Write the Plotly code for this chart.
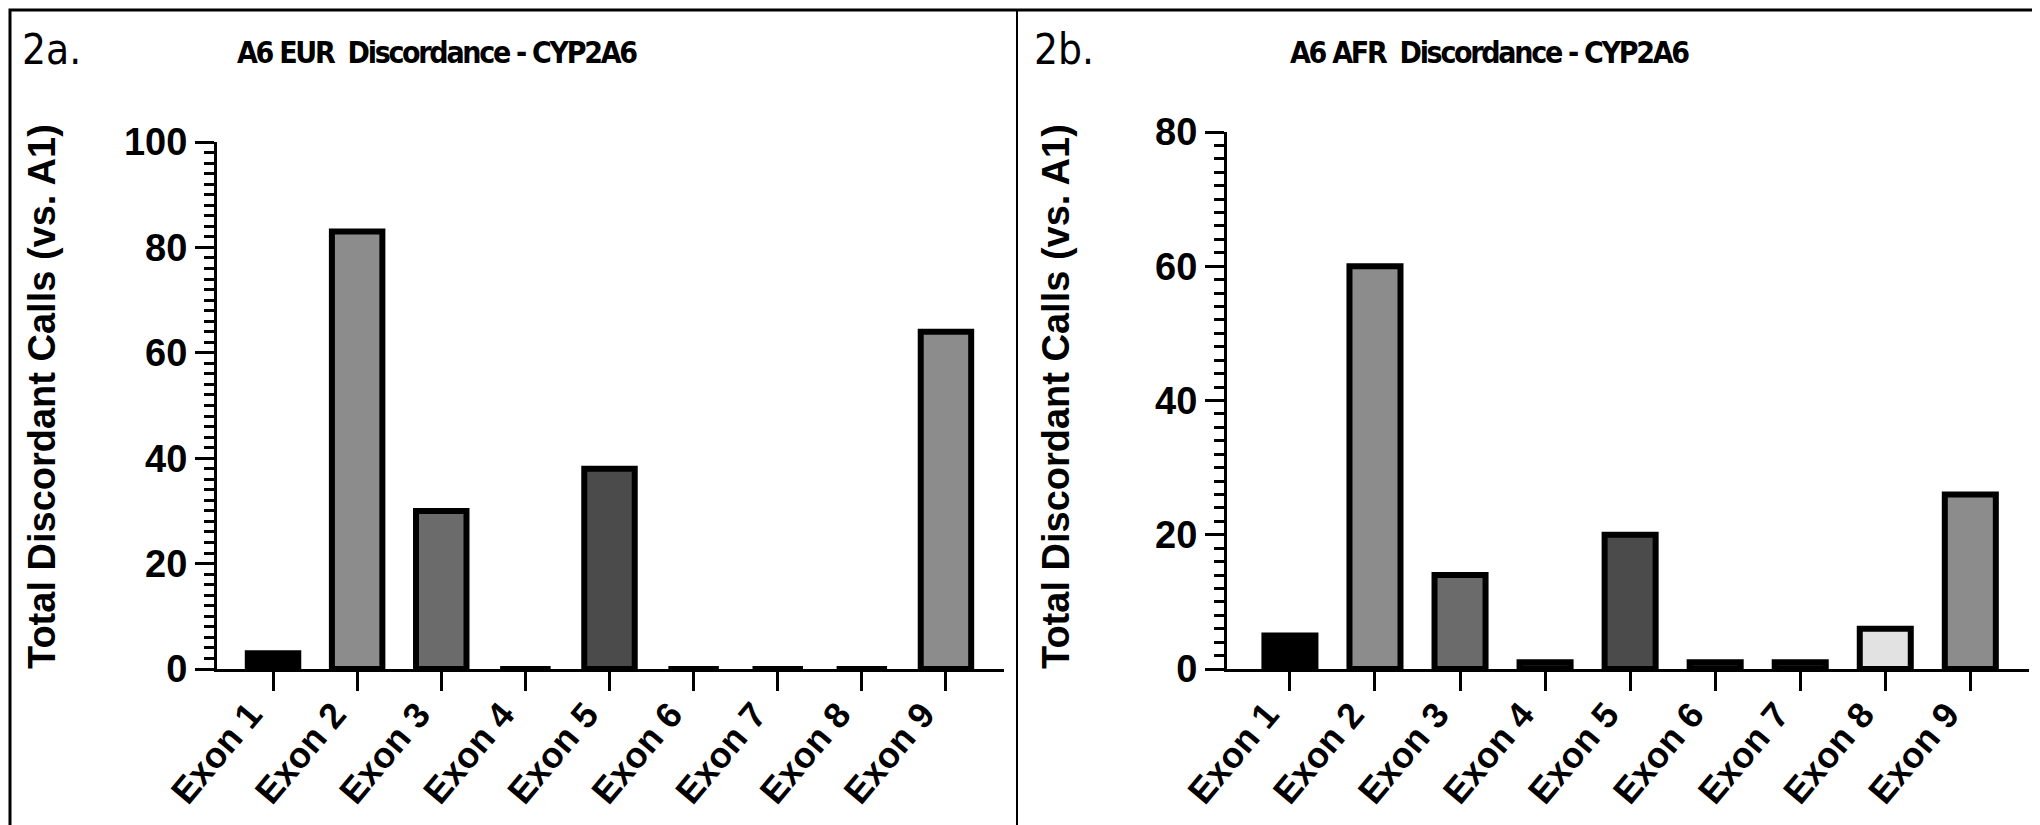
import plotly.graph_objects as go

# ---- data ----
categories = ["Exon 1", "Exon 2", "Exon 3", "Exon 4", "Exon 5", "Exon 6", "Exon 7", "Exon 8", "Exon 9"]
eur_values = [3, 83, 30, 0, 38, 0, 0, 0, 64]
afr_values = [5, 60, 14, 1, 20, 1, 1, 6, 26]
bar_colors = ["#000000", "#8c8c8c", "#6b6b6b", "#1c1c1c", "#4b4b4b", "#1c1c1c", "#1c1c1c", "#e2e2e2", "#8c8c8c"]
titles = ["A6 EUR  Discordance - CYP2A6", "A6 AFR  Discordance - CYP2A6"]
panel_labels = ["2a.", "2b."]
y_title = "Total Discordant Calls (vs. A1)"

W, H = 2040, 825

def px(x):
    return x / W

def py(y):
    return 1 - y / H

TICK_FONT = dict(family="Liberation Sans, Arial, sans-serif", size=38, color="black", weight="bold")
XTICK_FONT = dict(family="Liberation Sans, Arial, sans-serif", size=36, color="black", weight="bold")
NARROW = "Liberation Sans Narrow, DejaVu Sans Condensed, sans-serif"

fig = go.Figure()
fig.add_trace(go.Bar(x=categories, y=eur_values, width=0.6,
                     marker=dict(color=bar_colors, line=dict(color="black", width=6)),
                     xaxis="x", yaxis="y", showlegend=False))
fig.add_trace(go.Bar(x=categories, y=afr_values, width=0.6,
                     marker=dict(color=bar_colors, line=dict(color="black", width=6)),
                     xaxis="x2", yaxis="y2", showlegend=False))

def xax(domain, anchor, rng):
    return dict(domain=domain, anchor=anchor, type="category", range=rng,
                showline=True, linecolor="black", linewidth=3, mirror=False,
                ticks="outside", ticklen=19, tickwidth=3, tickcolor="black",
                tickangle=-50, tickfont=XTICK_FONT, showgrid=False, zeroline=False,
                ticklabelshift=-23, ticklabelstandoff=-12,
                automargin=False, fixedrange=True)

def yax(domain, anchor, rng):
    return dict(domain=domain, anchor=anchor, range=rng, dtick=20, tick0=0,
                showline=True, linecolor="black", linewidth=3,
                ticks="outside", ticklen=19, tickwidth=3, tickcolor="black",
                minor=dict(dtick=2, ticks="outside", ticklen=10, tickwidth=2.5,
                           tickcolor="black", showgrid=False),
                tickfont=TICK_FONT, showgrid=False, zeroline=False,
                automargin=False, fixedrange=True)

fig.update_layout(
    width=W, height=H,
    margin=dict(l=0, r=0, t=0, b=0, pad=0, autoexpand=False),
    paper_bgcolor="white", plot_bgcolor="white",
    xaxis=xax([px(209), px(996)], "y", [-0.666, 8.69]),
    yaxis=yax([py(661), py(134)], "x", [0, 100]),
    xaxis2=xax([px(1219), px(2021)], "y2", [-0.74, 8.69]),
    yaxis2=yax([py(661), py(124)], "x2", [0, 80]),
)

annotations = []
for i, (lbl, ttl) in enumerate(zip(panel_labels, titles)):
    x_off = 0 if i == 0 else 1009
    annotations.append(dict(text=lbl, x=px(x_off + (12 if i == 0 else 15)), y=py(42),
                            xref="paper", yref="paper",
                            xanchor="left", yanchor="middle", showarrow=False,
                            font=dict(family=NARROW, size=42, color="black")))
    annotations.append(dict(text='<span style="letter-spacing:-2.3px">' + ttl + '</span>',
                            x=px(x_off + 429 + (43 if i == 1 else 0)), y=py(44),
                            xref="paper", yref="paper",
                            xanchor="center", yanchor="middle", showarrow=False,
                            font=dict(family=NARROW, size=30, color="black", weight="bold")))
    annotations.append(dict(text=y_title, x=px(x_off + (34 if i == 0 else 39)), y=py(389),
                            xref="paper", yref="paper",
                            xanchor="center", yanchor="middle", showarrow=False, textangle=-90,
                            font=dict(family="Liberation Sans, Arial, sans-serif", size=38,
                                      color="black", weight="bold")))
fig.update_layout(annotations=annotations)

fig.add_shape(type="rect", xref="paper", yref="paper",
              x0=px(2), x1=px(2035), y0=py(821), y1=py(2),
              line=dict(color="black", width=3), fillcolor="rgba(0,0,0,0)")
fig.add_shape(type="line", xref="paper", yref="paper",
              x0=px(1009), x1=px(1009), y0=py(821), y1=py(2),
              line=dict(color="black", width=2))

fig.write_html("out.html")
